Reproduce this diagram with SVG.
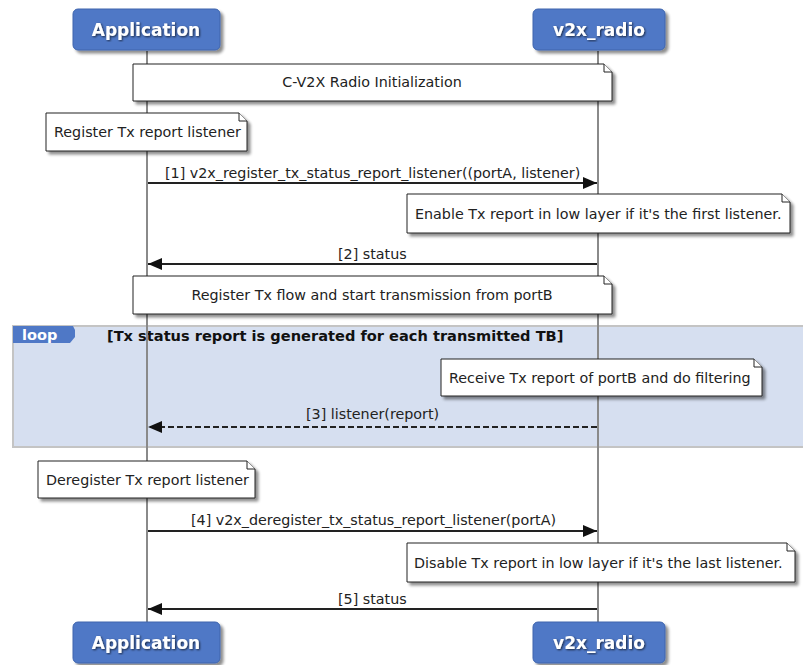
<svg xmlns="http://www.w3.org/2000/svg" width="803" height="665" viewBox="0 0 803 665">
<style>
text{font-family:"DejaVu Sans","Liberation Sans",sans-serif;font-size:14.3px;fill:#222}
.actor rect{fill:#4f78c6;stroke:#3e64ad;stroke-width:1}
.actor text{font-size:17px;font-weight:bold;fill:#fff;text-anchor:middle}
.note path.b{fill:#fff;stroke:#222;stroke-width:1}
.note path.f{fill:#fff;stroke:#222;stroke-width:1}
.life{stroke:#8a8a8a;stroke-width:2}
.msg{stroke:#222;stroke-width:2;fill:none}
.dash{stroke-dasharray:6,3}
.mid{text-anchor:middle}
</style>
<defs>
<filter id="sh" x="-10%" y="-20%" width="130%" height="160%">
<feGaussianBlur in="SourceAlpha" stdDeviation="1.5"/>
<feOffset dx="3" dy="3" result="o"/>
<feComponentTransfer><feFuncA type="linear" slope="0.45"/></feComponentTransfer>
<feMerge><feMergeNode/><feMergeNode in="SourceGraphic"/></feMerge>
</filter>
<filter id="ts"><feGaussianBlur in="SourceAlpha" stdDeviation="0.8"/><feOffset dx="1" dy="1"/><feComponentTransfer><feFuncA type="linear" slope="0.7"/></feComponentTransfer><feMerge><feMergeNode/><feMergeNode in="SourceGraphic"/></feMerge></filter>
<marker id="ah" markerWidth="14" markerHeight="12" refX="14" refY="6" orient="auto" markerUnits="userSpaceOnUse"><path d="M0,0 L14,6 L0,12 Z" fill="#111"/></marker>
</defs>
<rect width="803" height="665" fill="#fff"/>

<g id="loop">
<rect x="13" y="326" width="795" height="121" fill="#d6dff0" stroke="#c4c4c4" stroke-width="2"/>
<path d="M13,326 H73 L75,330 V337 L70,343 H13 Z" fill="#4f78c6"/>
<text x="22" y="340" style="font-weight:bold;fill:#fff;font-size:14.5px">loop</text>
<text x="107" y="341" style="font-weight:bold;fill:#111;font-size:14.6px">[Tx status report is generated for each transmitted TB]</text>
</g>

<g id="lifelines">
<line class="life" x1="147" y1="51" x2="147" y2="622"/>
<line class="life" x1="598" y1="51" x2="598" y2="622"/>
</g>

<g id="Application_top" class="actor"><rect x="73" y="9" width="147" height="41" rx="5" filter="url(#sh)"/><text x="146" y="36" filter="url(#ts)">Application</text></g>
<g id="v2x_radio_top" class="actor"><rect x="533" y="9" width="132" height="41" rx="5" filter="url(#sh)"/><text x="599" y="36" filter="url(#ts)">v2x_radio</text></g>
<g id="Application_bottom" class="actor"><rect x="73" y="622" width="147" height="41" rx="5" filter="url(#sh)"/><text x="146" y="649" filter="url(#ts)">Application</text></g>
<g id="v2x_radio_bottom" class="actor"><rect x="533" y="622" width="132" height="41" rx="5" filter="url(#sh)"/><text x="599" y="649" filter="url(#ts)">v2x_radio</text></g>

<g id="note_init" class="note"><path class="b" d="M133,64 H604 L612,72 V101 H133 Z" filter="url(#sh)"/><path class="f" d="M604,64 V72 H612"/><text class="mid" x="372" y="87">C-V2X Radio Initialization</text></g>
<g id="note_register" class="note"><path class="b" d="M46,113 H239 L247,121 V151 H46 Z" filter="url(#sh)"/><path class="f" d="M239,113 V121 H247"/><text x="54" y="137">Register Tx report listener</text></g>
<g id="note_enable" class="note"><path class="b" d="M407,194 H782 L790,202 V233 H407 Z" filter="url(#sh)"/><path class="f" d="M782,194 V202 H790"/><text x="415" y="219">Enable Tx report in low layer if it's the first listener.</text></g>
<g id="note_flow" class="note"><path class="b" d="M133,276 H604 L612,284 V314 H133 Z" filter="url(#sh)"/><path class="f" d="M604,276 V284 H612"/><text class="mid" x="372" y="300">Register Tx flow and start transmission from portB</text></g>
<g id="note_receive" class="note"><path class="b" d="M441,359 H754 L762,367 V396 H441 Z" filter="url(#sh)"/><path class="f" d="M754,359 V367 H762"/><text x="449" y="383">Receive Tx report of portB and do filtering</text></g>
<g id="note_deregister" class="note"><path class="b" d="M38,461 H247 L255,469 V498 H38 Z" filter="url(#sh)"/><path class="f" d="M247,461 V469 H255"/><text x="46" y="485">Deregister Tx report listener</text></g>
<g id="note_disable" class="note"><path class="b" d="M407,543 H787 L795,551 V582 H407 Z" filter="url(#sh)"/><path class="f" d="M787,543 V551 H795"/><text x="414" y="568">Disable Tx report in low layer if it's the last listener.</text></g>

<g id="connectors">
<line class="msg" x1="148" y1="183" x2="597" y2="183" marker-end="url(#ah)"/>
<text x="165" y="178">[1] v2x_register_tx_status_report_listener((portA, listener)</text>
<line class="msg" x1="597" y1="264" x2="148" y2="264" marker-end="url(#ah)"/>
<text x="338" y="259">[2] status</text>
<line class="msg dash" x1="597" y1="427" x2="148" y2="427" marker-end="url(#ah)"/>
<text x="306" y="419">[3] listener(report)</text>
<line class="msg" x1="148" y1="531" x2="597" y2="531" marker-end="url(#ah)"/>
<text x="191" y="525">[4] v2x_deregister_tx_status_report_listener(portA)</text>
<line class="msg" x1="597" y1="609" x2="148" y2="609" marker-end="url(#ah)"/>
<text x="338" y="604">[5] status</text>
</g>
</svg>
